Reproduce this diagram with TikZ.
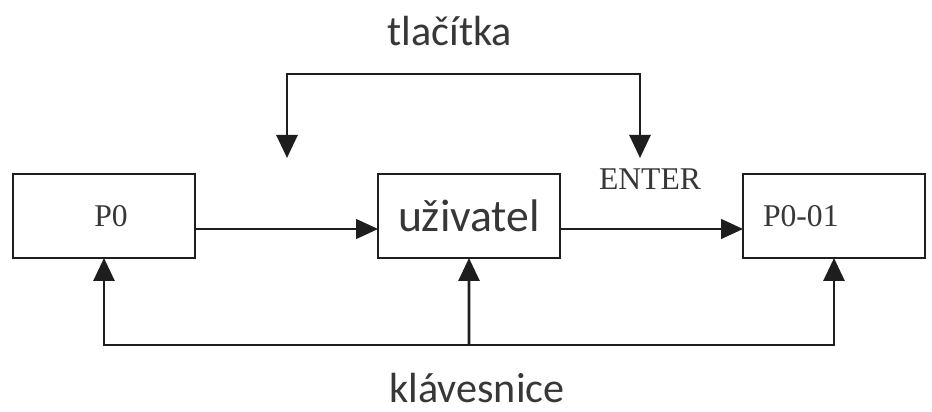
\documentclass[tikz,border=0pt]{standalone}
\usepackage{fontspec}
\usepackage{tikz}
\usetikzlibrary{arrows.meta,positioning}
\setmainfont{Liberation Serif}
\newfontfamily\calibri{Carlito}
\definecolor{linecol}{RGB}{30,30,30}
\definecolor{textcol}{RGB}{55,55,55}

\begin{document}
\begin{tikzpicture}[
			node distance=3.66cm,
			box/.style={draw=linecol, line width=1.6pt, minimum width=3.64cm, minimum height=1.68cm, inner sep=0pt, outer sep=0pt, text=textcol, font=\fontsize{18}{20}\selectfont},
			signal/.style={-{Triangle[length=0.44cm,width=0.4cm]}, draw=linecol, line width=0.8pt},
			bus/.style={-{Triangle[length=0.46cm,width=0.42cm]}, draw=linecol, line width=1.6pt},
			caption/.style={inner sep=0pt, text=textcol, font=\calibri\fontsize{24}{28}\selectfont}
		]
		\useasboundingbox (0,0) rectangle (18.64,-8.24);

		\node[box] (p0) at (2.08,-4.32) {\hspace{0.28cm}P0};
		\node[box, right=of p0, font=\calibri\fontsize{26}{30}\selectfont] (user) {uživatel\hspace{0.4cm}};
		\node[box, right=of user, text width=2.84cm, align=left, inner xsep=0.4cm] (pout) {P0-01};

		\coordinate (tl) at (5.74,-3.16);
		\coordinate (tr) at (12.8,-3.16);
		\coordinate (kb) at (9.38,-6.9);

		\node[caption] (buttons) at (9.0,-0.62) {tlačítka};
		\node[caption] (keyboard) at (9.54,-7.76) {klávesnice};
		\node[inner sep=0pt, text=textcol, font=\fontsize{18}{20}\selectfont] (enter) at (13.0,-3.58) {ENTER};

		% tlacitka
		\draw[bus, {Triangle[length=0.46cm,width=0.42cm]}-{Triangle[length=0.46cm,width=0.42cm]}] (tl) -- ++(0,1.68) -| (tr);

		% tok mezi stavy
		\draw[signal] ([yshift=-0.26cm]p0.east) -- ([yshift=-0.26cm]user.west);
		\draw[signal] ([yshift=-0.26cm]user.east) -- ([yshift=-0.26cm]pout.west);

		% klavesnice
		\draw[bus] (kb) -| (p0.south);
		\draw[bus] (kb) -- (user.south);
		\draw[bus] (kb) -| (pout.south);

	\end{tikzpicture}
\end{document}
